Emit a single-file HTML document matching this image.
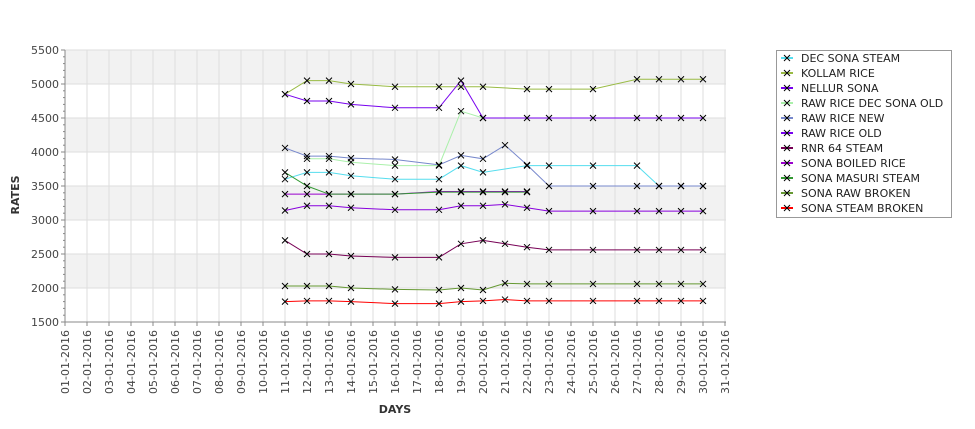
<!DOCTYPE html>
<html><head><meta charset="utf-8"><style>
html,body{margin:0;padding:0;background:#fff;}
svg{display:block;font-family:"DejaVu Sans","Liberation Sans",sans-serif;}
</style></head><body>
<svg id="c" width="975" height="429" viewBox="0 0 975 429" xmlns="http://www.w3.org/2000/svg">
<text x="19" y="195" font-size="11" font-weight="bold" fill="#333" transform="rotate(-90 19 195)" text-anchor="middle">RATES</text>
<text x="395" y="413" font-size="11" font-weight="bold" fill="#333" text-anchor="middle">DAYS</text>
<g id="g"></g>
</svg>
<script>
var NS="http://www.w3.org/2000/svg",g=document.getElementById('g');
function el(t,a,txt){var e=document.createElementNS(NS,t);for(var k in a)e.setAttribute(k,a[k]);if(txt)e.textContent=txt;g.appendChild(e);return e;}
function X(d){return 65+(d-1)*22;}
function Y(v){return 50+(5500-v)*0.068;}
var L=65,R=726;
[[5500,5000],[4500,4000],[3500,3000],[2500,2000]].forEach(function(b){el('rect',{x:L,y:Y(b[0]),width:R-L,height:Y(b[1])-Y(b[0]),fill:'#f2f2f2'});});
for(var v=1500;v<=5500;v+=500){if(v>1500)el('line',{x1:L,x2:R,y1:Y(v),y2:Y(v),stroke:'#dedede','stroke-width':1});}
for(var d=2;d<=31;d++)el('line',{x1:X(d),x2:X(d),y1:50,y2:322,stroke:'#dedede','stroke-width':1});
el('line',{x1:L,x2:L,y1:50,y2:322,stroke:'#888'});
el('line',{x1:L,x2:R,y1:322,y2:322,stroke:'#888'});
for(var v=1500;v<=5500;v+=100){var big=v%500==0;el('line',{x1:big?L-4:L-2,x2:L,y1:Y(v),y2:Y(v),stroke:'#888'});
 if(big)el('text',{x:L-6,y:Y(v)+4,'font-size':11,fill:'#444','text-anchor':'end'},String(v));}
for(var d=1;d<=31;d++){var x=X(d);el('line',{x1:x,x2:x,y1:322,y2:326,stroke:'#888'});
 var s=(d<10?'0':'')+d+'-01-2016';el('text',{x:0,y:0,'font-size':11,fill:'#444','text-anchor':'end',transform:'translate('+(x+4)+',330) rotate(-90)'},s);}
var S=[
['#55ddee',[[11,3600],[12,3700],[13,3700],[14,3650],[16,3600],[18,3600],[19,3800],[20,3700],[22,3800],[23,3800],[25,3800],[27,3800],[28,3500],[29,3500],[30,3500]]],
['#99bb44',[[11,4850],[12,5050],[13,5050],[14,5000],[16,4960],[18,4960],[19,4960],[20,4960],[22,4925],[23,4925],[25,4925],[27,5070],[28,5070],[29,5070],[30,5070]]],
['#7700ee',[[11,4850],[12,4750],[13,4750],[14,4700],[16,4650],[18,4650],[19,5050],[20,4500],[22,4500],[23,4500],[25,4500],[27,4500],[28,4500],[29,4500],[30,4500]]],
['#aaf0aa',[[12,3900],[13,3900],[14,3850],[16,3800],[18,3800],[19,4600],[20,4500]]],
['#7788cc',[[11,4060],[12,3940],[13,3940],[14,3910],[16,3890],[18,3810],[19,3950],[20,3900],[21,4100],[22,3810],[23,3500],[25,3500],[27,3500],[28,3500],[29,3500],[30,3500]]],
['#8800dd',[[11,3140],[12,3210],[13,3210],[14,3180],[16,3150],[18,3150],[19,3210],[20,3210],[21,3230],[22,3180],[23,3130],[25,3130],[27,3130],[28,3130],[29,3130],[30,3130]]],
['#770055',[[11,2700],[12,2500],[13,2500],[14,2470],[16,2450],[18,2450],[19,2650],[20,2700],[21,2650],[22,2600],[23,2560],[25,2560],[27,2560],[28,2560],[29,2560],[30,2560]]],
['#9900cc',[[11,3380],[12,3380],[13,3380],[14,3380],[16,3380],[18,3420],[19,3420],[20,3420],[21,3420],[22,3420]]],
['#339933',[[11,3700],[12,3500],[13,3380],[14,3380],[16,3380],[18,3410],[19,3410],[20,3410],[21,3410],[22,3410]]],
['#669933',[[11,2030],[12,2030],[13,2030],[14,2000],[16,1980],[18,1970],[19,2000],[20,1970],[21,2070],[22,2060],[23,2060],[25,2060],[27,2060],[28,2060],[29,2060],[30,2060]]],
['#ff0000',[[11,1800],[12,1810],[13,1810],[14,1800],[16,1770],[18,1770],[19,1800],[20,1810],[21,1830],[22,1810],[23,1810],[25,1810],[27,1810],[28,1810],[29,1810],[30,1810]]]
];
function cross(x,y){el('path',{d:'M'+(x-3)+' '+(y-3)+'L'+(x+3)+' '+(y+3)+'M'+(x-3)+' '+(y+3)+'L'+(x+3)+' '+(y-3),stroke:'#000','stroke-width':1});}
S.forEach(function(s){el('polyline',{points:s[1].map(function(p){return X(p[0])+','+Y(p[1]);}).join(' '),fill:'none',stroke:s[0],'stroke-width':1});});
S.forEach(function(s){s[1].forEach(function(p){cross(X(p[0]),Y(p[1]));});});
el('rect',{x:776.5,y:50.5,width:175,height:167,fill:'#fff',stroke:'#999'});
var names=['DEC SONA STEAM','KOLLAM RICE','NELLUR SONA','RAW RICE DEC SONA OLD','RAW RICE NEW','RAW RICE OLD','RNR 64 STEAM','SONA BOILED RICE','SONA MASURI STEAM','SONA RAW BROKEN','SONA STEAM BROKEN'];
var lc=['#55ddee','#99bb44','#7700ee','#aaf0aa','#7788cc','#7700ee','#770055','#9900cc','#339933','#669933','#ff0000'];
names.forEach(function(n,i){var y=58+i*15;el('line',{x1:781,x2:793,y1:y,y2:y,stroke:lc[i],'stroke-width':2});
 el('path',{d:'M784 '+(y-3)+'L790 '+(y+3)+'M784 '+(y+3)+'L790 '+(y-3),stroke:'#000','stroke-width':1});
 el('text',{x:801,y:y+4,'font-size':11,fill:'#222'},n);});
</script>
</body></html>
